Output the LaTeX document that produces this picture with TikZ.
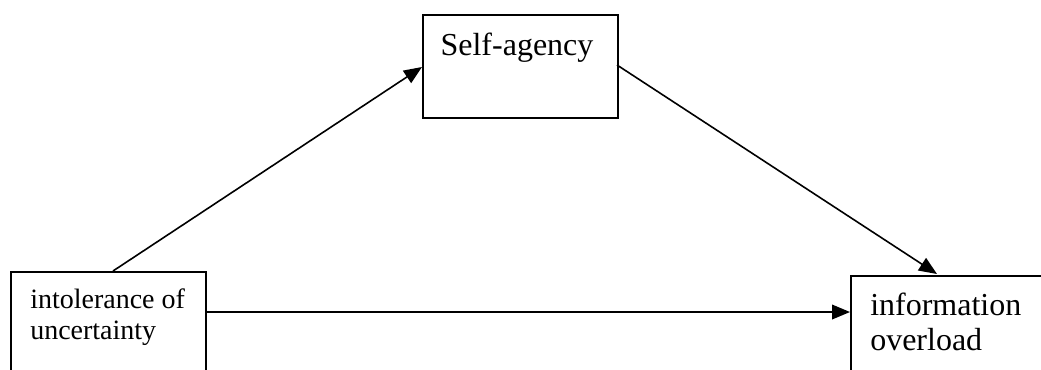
\documentclass[tikz,border=0pt]{standalone}
\usepackage{fontspec}
\setmainfont{Liberation Serif}
\usetikzlibrary{arrows.meta}
\begin{document}
\begin{tikzpicture}[x=0.75pt,y=-0.75pt,
  box/.style={draw=black,line width=1.3pt,rectangle,inner sep=0pt,anchor=north west},
  conn/.style={line width=1.2pt,-{Triangle[length=13.5pt,width=11pt]}},
  small/.style={font=\fontsize{21pt}{23pt}\selectfont,anchor=base west,inner sep=0pt,align=left},
  big/.style={font=\fontsize{24pt}{26pt}\selectfont,anchor=base west,inner sep=0pt}]
\useasboundingbox (0,0) rectangle (1041,369);
\begin{scope}
\clip (0,0) rectangle (1041,369);
\node[box,minimum width=146.25pt,minimum height=97.5pt] (a) at (10,271) {};
\node[box,minimum width=146.25pt,minimum height=77.25pt] (m) at (422,14) {};
\node[box,minimum width=187.5pt,minimum height=93.75pt] (c) at (850,275) {};
\node[small] (ta1) at (30,308) {intolerance of};
\node[small] (ta2) at (30,339) {uncertainty};
\node[big,anchor=base] (tm) at (517,55) {Self-agency};
\node[big] (tc1) at (870,315) {information};
\node[big] (tc2) at (870,350) {overload};
\coordinate (a1) at (113,271);
\coordinate (a2) at (205,312);
\coordinate (m1) at (422,67);
\coordinate (m2) at (617,65);
\coordinate (c1) at (937,274);
\coordinate (c2) at (850,312);
\draw[conn] (a1) -- (m1);
\draw[conn] (m2) -- (c1);
\draw[conn] (a2) -- (c2);
\end{scope}
\end{tikzpicture}
\end{document}
